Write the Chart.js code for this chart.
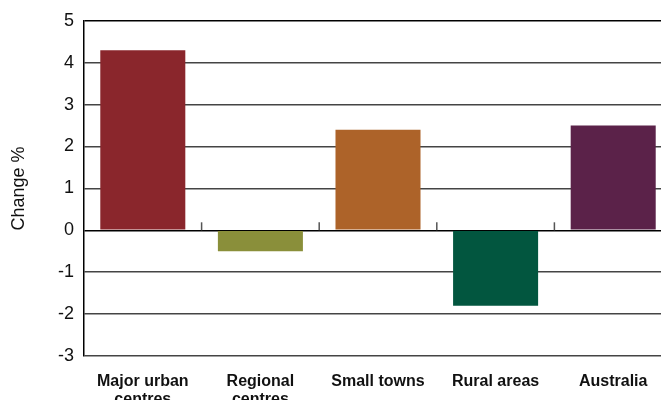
<!DOCTYPE html>
<html>
<head>
<meta charset="utf-8">
<script src="https://cdn.jsdelivr.net/npm/chart.js@4/dist/chart.umd.min.js"></script>
<style>
  html, body { margin: 0; padding: 0; background: #fff; overflow: hidden; }
  #wrap { position: relative; width: 680px; height: 400px; }
</style>
</head>
<body>
<div id="wrap"><canvas id="chart"></canvas></div>
<script>
// Population change by area type, per cent
const categories = [['Major urban', 'centres'], ['Regional', 'centres'], 'Small towns', 'Rural areas', 'Australia'];
const changeValues = [4.3, -0.5, 2.4, -1.8, 2.5];
const barColours = ['#8A262C', '#8A8F3A', '#AD6329', '#02563F', '#5B2249'];
const yTicks = [-3, -2, -1, 0, 1, 2, 3, 4, 5];

// Short upward tick marks on the zero line between categories
const zeroLineTicks = {
  id: 'zeroLineTicks',
  afterDatasetsDraw(chart) {
    const x = chart.scales.x, y = chart.scales.y;
    const y0 = y.getPixelForValue(0);
    const ctx = chart.ctx;
    ctx.save();
    ctx.strokeStyle = '#555';
    ctx.lineWidth = 1.5;
    for (let i = 1; i < categories.length; i++) {
      const bx = (x.getPixelForValue(i - 1) + x.getPixelForValue(i)) / 2;
      ctx.beginPath();
      ctx.moveTo(bx, y0);
      ctx.lineTo(bx, y0 - 8);
      ctx.stroke();
    }
    ctx.restore();
  }
};

new Chart(document.getElementById('chart'), {
  type: 'bar',
  data: {
    labels: categories,
    datasets: [{
      data: changeValues,
      backgroundColor: barColours,
      borderWidth: 0,
      categoryPercentage: 1,
      barPercentage: 0.723
    }]
  },
  options: {
    responsive: true,
    maintainAspectRatio: false,
    animation: false,
    devicePixelRatio: 1,
    layout: { padding: { top: 20, right: 8, left: 0, bottom: 0 } },
    plugins: { legend: { display: false }, tooltip: { enabled: false } },
    scales: {
      x: {
        grid: { display: false },
        border: { display: false },
        ticks: {
          color: '#111',
          font: { family: 'Liberation Sans, Arial, sans-serif', size: 16, weight: 'bold', lineHeight: 1.1 },
          padding: 9,
          maxRotation: 0,
          autoSkip: false
        },
        afterFit(scale) { scale.height = 44; }
      },
      y: {
        min: -3,
        max: 5,
        afterBuildTicks(scale) { scale.ticks = yTicks.map(v => ({ value: v })); },
        grid: {
          drawTicks: false,
          color: ctx => (ctx.tick && (ctx.tick.value === 0 || ctx.tick.value === 5)) ? '#000' : '#444',
          lineWidth: 1.5
        },
        border: { display: true, color: '#000', width: 1.5 },
        ticks: {
          color: '#111',
          font: { family: 'Liberation Sans, Arial, sans-serif', size: 18 },
          padding: 10
        },
        title: {
          display: true,
          text: 'Change %',
          color: '#111',
          font: { family: 'Liberation Sans, Arial, sans-serif', size: 18 },
          padding: { top: 8, bottom: 0 }
        },
        afterFit(scale) { scale.width = 84; }
      }
    }
  },
  plugins: [zeroLineTicks]
});
</script>
</body>
</html>
